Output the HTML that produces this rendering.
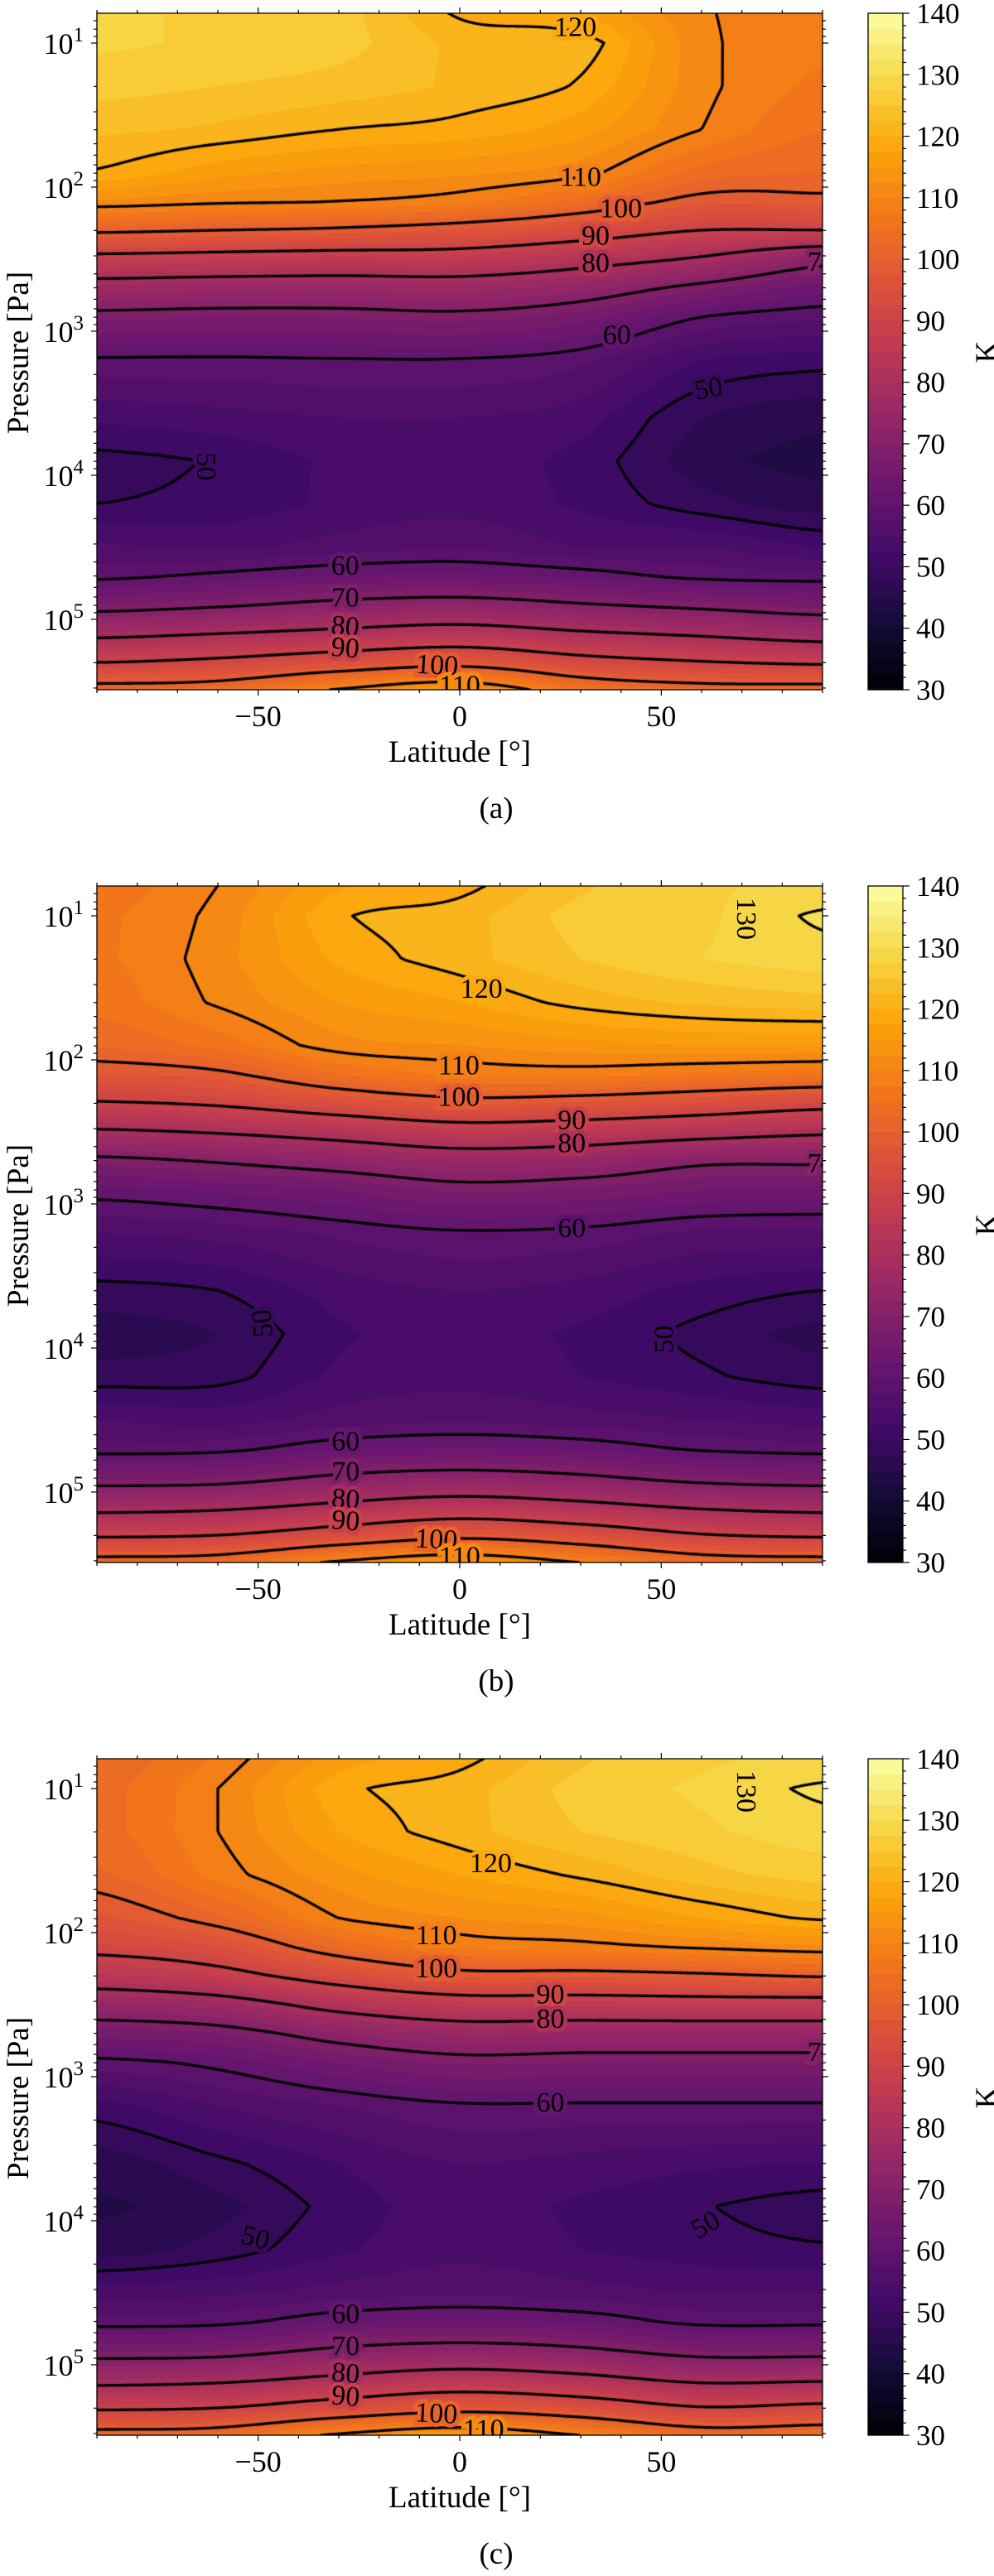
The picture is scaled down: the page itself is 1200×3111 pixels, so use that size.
<!DOCTYPE html>
<html><head><meta charset="utf-8"><title>Temperature cross-sections</title>
<style>
html,body{margin:0;padding:0;background:#fff}
#fig{position:relative;width:1200px;height:3111px;background:#fff;overflow:hidden}
canvas{position:absolute}
svg{position:absolute;left:0;top:0}
text{font-family:"Liberation Serif",serif;fill:#000}
</style></head>
<body>
<div id="fig">
<svg id="axes-svg" width="1200" height="3111"></svg>
</div>
<script>
// ---- data ----
const latNodes = [-90,-60,-30,0,30,60,90];
const logpNodes = [0.79,1.0,1.3,1.6,1.9,2.1,2.3,2.5,2.7,2.9,3.2,3.6,3.9,4.2,4.5,4.7,4.9,5.1,5.3,5.49];
const tempA = [
[128,128,126,123,119.7,112,101,87.5,76.4,68.2,59.5,53,49,50,55.5,59,67.5,78.3,90,103],
[127,127,125,122,116,110.7,100,86.7,75.7,67.6,59.4,54,50.3,50.8,54.5,60.8,69.2,80,91.8,104],
[126,126,124,120,114,110,99,86,75.5,67.7,59.7,55,53,53,56,62.6,71.5,81.8,95,110.5],
[119.5,122,122,119,113,108.5,97,86,76,68.5,59.7,55,53.5,54,57,63,72.5,83.5,97.5,115],
[117,121.5,119.5,116,111,104,94,83,73.5,66,58,53.5,51.5,52,55,61.6,70.5,81,93,106],
[110.5,111,111,110,104,98.5,90,79,68.2,60,52.5,47.5,46,48.5,55,59,68.5,79,90.5,103],
[108,108,107,105,102.5,99,90,72,63.5,58,51,45.5,44,46,52.5,58.5,66.5,76.5,89,103]
];
const tempB = [
[106,107,107,106,103,97.5,89.5,79,68.5,61.5,55,49,46,48.5,55,58.5,67,77.5,89,103],
[110,111,111.5,110.5,106,99,91,80.5,70.5,63,56,50,47.5,49,54,59,67.5,78.5,90,104],
[117,119.5,118,115,111.5,105,95,83,73,65,58,53.5,52,53,56,62,71,81.5,94,111],
[119,121.5,121.5,117.5,112.5,108,98,86,75.5,68,59.5,55,53.5,54,57,63,72.5,84,98,115],
[124.5,126,125,121,114,108.5,97,85,74.5,67,59,54,52,52.5,56,62,71,82,95,110],
[127,127,127.5,123,115,107,95,83,71,65,57,51.5,49,50.5,55,59.5,68,79,90.5,104],
[128,130.5,129,124,115,106,92.5,81,71,64,57,50,46.5,48.5,54,58.5,67,77.5,89,103]
];
const tempC = [
[103,104,104,102,97,92,84.5,74.5,66,59,51.5,46,44.5,46,54,58.5,67,77.5,89,103],
[108,110,110,108.5,102,95,87.5,76.5,67.5,61,55,49.3,46.5,48.5,54.5,59,67.5,78.5,90,104],
[116,119,117.5,114,110,103,93.5,82.5,72.5,65,57.5,52.5,51,52,56,62,71,81.5,94,111],
[119,121.5,121.5,117.5,112.5,108,98,86,75.5,68,59.5,55,53.5,54,57,63,72.5,84,97.5,115],
[124.5,126,125,120.5,114,109,98,86,75,67.5,59.5,54,52,52.5,56,62,71,82,95,110],
[127,128,127,124,117.5,110.5,99,86.5,75,67.5,59.5,53,50.2,51,55,59,67.5,78.5,90.5,104],
[128,130.5,129,126,120.5,112,100.5,86.5,75,67.5,59.5,52.5,48.5,50.3,55,59,67.5,79,92,105]
];
const contourLevels = [40,50,60,70,80,90,100,110,120,130];
const cbarTicks = [30,40,50,60,70,80,90,100,110,120,130,140];
const xTicks = [-50,0,50];
const xTickLabels = ["\u221250","0","50"];
const yDecades = [1,2,3,4,5];
const labelsA = [['120',28.7,0.89,0],['110',30,1.93,0],['100',40,2.15,0],['90',33.7,2.34,0],['80',33.7,2.53,0],['7',88,2.52,0],['60',39,3.03,0],['50',61.7,3.4,-10],['50',-63,3.94,90],['60',-28.4,4.63,0],['70',-28.4,4.85,0],['80',-28.4,5.05,5],['90',-28.4,5.2,5],['100',-5.6,5.32,3],['110',0,5.46,0]];
const labelsB = [['130',71,1.02,90],['120',5.4,1.51,0],['110',-0.2,2.04,0],['100',-0.2,2.26,0],['90',27.8,2.42,0],['80',27.8,2.58,0],['7',88,2.72,0],['60',27.8,3.17,0],['50',-48.9,3.83,-95],['50',50.8,3.94,-90],['60',-28.3,4.65,0],['70',-28.3,4.86,0],['80',-28.3,5.05,5],['90',-28.3,5.2,5],['100',-5.8,5.33,3],['110',0,5.45,0]];
const labelsC = [['130',71,1.02,90],['120',7.7,1.52,0],['110',-5.8,2.02,0],['100',-5.8,2.25,0],['90',22.5,2.43,0],['80',22.5,2.6,0],['7',88,2.83,0],['60',22.5,3.18,0],['50',-50.7,4.12,15],['50',61,4.03,-30],['60',-28.3,4.65,0],['70',-28.3,4.87,0],['80',-28.3,5.06,5],['90',-28.3,5.22,5],['100',-5.8,5.34,3],['110',5.9,5.45,0]];
const panelNames = ['(a)','(b)','(c)'];

// ---- layout ----
const NS='http://www.w3.org/2000/svg';
const PX0=117, PY0=16, PW=876, PH=817, LPTOP=0.793, LPBOT=5.489;
const OFFS=[0,1054,2108];
const CBX=1048, CBW=42, VMIN=30, VMAX=140, BAND=2.5;
function xOf(lat){return PX0+(lat+90)/180*PW;}
function yOf(lp){return PY0+(lp-LPTOP)/(LPBOT-LPTOP)*PH;}
function cbY(v){return PY0+PH-(v-VMIN)/(VMAX-VMIN)*PH;}

const inf=[[0,0,4],[22,11,57],[66,10,104],[106,23,110],[147,38,103],[188,55,84],[221,81,58],[243,120,25],[252,165,10],[246,215,70],[252,255,164]];
function inferno(t){t=Math.max(0,Math.min(1,t));const f=t*10;let i=Math.floor(f);if(i>=10)i=9;const u=f-i;const a=inf[i],b=inf[i+1];return [a[0]+(b[0]-a[0])*u,a[1]+(b[1]-a[1])*u,a[2]+(b[2]-a[2])*u].map(Math.round);}
const NB=Math.round((VMAX-VMIN)/BAND);
const bandCols=[];for(let i=0;i<NB;i++){bandCols.push(inferno((VMIN+(i+0.5)*BAND-VMIN)/(VMAX-VMIN)));}
function bandColor(T){let i=Math.floor((T-VMIN)/BAND);i=Math.max(0,Math.min(NB-1,i));return bandCols[i];}

function interpLP(row,lp){let j=0;while(j<logpNodes.length-2&&lp>logpNodes[j+1])j++;const t=(lp-logpNodes[j])/(logpNodes[j+1]-logpNodes[j]);return row[j]+(row[j+1]-row[j])*t;}
function catmull(col,lat){let u=(lat+90)/30;let i=Math.floor(u);if(i>5)i=5;if(i<0)i=0;const t=u-i;const p0=col[Math.max(i-1,0)],p1=col[i],p2=col[i+1],p3=col[Math.min(i+2,6)];return 0.5*((2*p1)+(-p0+p2)*t+(2*p0-5*p1+4*p2-p3)*t*t+(-p0+3*p1-3*p2+p3)*t*t*t);}
function field(data,lat,lp){const col=data.map(r=>interpLP(r,lp));return catmull(col,lat);}

const svg=document.getElementById('axes-svg');
const fig=document.getElementById('fig');
function mk(tag,attrs,parent){const e=document.createElementNS(NS,tag);for(const k in attrs)e.setAttribute(k,attrs[k]);(parent||svg).appendChild(e);return e;}

const temps=[tempA,tempB,tempC];
const labels=[labelsA,labelsB,labelsC];
const defs=mk('defs',{});

for(let p=0;p<3;p++){
  const off=OFFS[p], data=temps[p];
  const cv=document.createElement('canvas');
  
  
  cv.width=PW;cv.height=PH;cv.style.left=PX0+'px';cv.style.top=(PY0+off)+'px';
  fig.insertBefore(cv,svg);
  const ctx=cv.getContext('2d');
  const img=ctx.createImageData(PW,PH);
  for(let y=0;y<PH;y++){
    const lp=LPTOP+(y+0.5)/PH*(LPBOT-LPTOP);
    const col=data.map(r=>interpLP(r,lp));
    for(let x=0;x<PW;x++){
      const lat=-90+(x+0.5)/PW*180;
      const c=bandColor(catmull(col,lat));
      const k=(y*PW+x)*4;img.data[k]=c[0];img.data[k+1]=c[1];img.data[k+2]=c[2];img.data[k+3]=255;
    }
  }
  ctx.putImageData(img,0,0);
  const S=3;const nx=Math.ceil(PW/S)+1, ny=Math.ceil(PH/S)+1;
  const G=[];
  for(let j=0;j<ny;j++){const yy=Math.min(j*S,PH);const lp=LPTOP+yy/PH*(LPBOT-LPTOP);const col=data.map(r=>interpLP(r,lp));const row=[];for(let i=0;i<nx;i++){const xx=Math.min(i*S,PW);row.push(catmull(col,-90+xx/PW*180));}G.push(row);}
  ctx.strokeStyle='#000';ctx.lineWidth=3.3;ctx.lineCap='round';ctx.lineJoin='round';
  for(const L of contourLevels){
    ctx.beginPath();
    for(let j=0;j<ny-1;j++){const y0=Math.min(j*S,PH),y1=Math.min((j+1)*S,PH);
      for(let i=0;i<nx-1;i++){const x0=Math.min(i*S,PW),x1=Math.min((i+1)*S,PW);
        const a=G[j][i],b=G[j][i+1],c=G[j+1][i+1],d=G[j+1][i];
        const pts=[];
        const edge=(va,vb,xa,ya,xb,yb)=>{if((va<L)!==(vb<L)){const t=(L-va)/(vb-va);pts.push([xa+(xb-xa)*t,ya+(yb-ya)*t]);}};
        edge(a,b,x0,y0,x1,y0);edge(b,c,x1,y0,x1,y1);edge(c,d,x1,y1,x0,y1);edge(d,a,x0,y1,x0,y0);
        if(pts.length>=2){ctx.moveTo(pts[0][0],pts[0][1]);ctx.lineTo(pts[1][0],pts[1][1]);}
        if(pts.length===4){ctx.moveTo(pts[2][0],pts[2][1]);ctx.lineTo(pts[3][0],pts[3][1]);}
      }}
    ctx.stroke();
  }
  const cp=mk('clipPath',{id:'clip'+p},defs);
  mk('rect',{x:PX0,y:PY0+off,width:PW,height:PH},cp);
  const lg=mk('g',{'clip-path':'url(#clip'+p+')'});
  
  
  for(const lb of labels[p]){
    const T=field(data,lb[1],lb[2]);const c=bandColor(T);
    const x=xOf(lb[1]),y=yOf(lb[2])+off;
    const t=mk('text',{x:x,y:y,'text-anchor':'middle','dominant-baseline':'central','font-size':34,stroke:'rgb('+c.join(',')+')','stroke-width':10,'paint-order':'stroke','transform':'rotate('+lb[3]+' '+x+' '+y+')'},lg);
    
    
    t.textContent=lb[0];
  }
  const fr=mk('rect',{x:PX0,y:PY0+off,width:PW,height:PH,fill:'none',stroke:'#000','stroke-width':1.3});
  
  
  const tg=mk('g',{stroke:'#000','stroke-width':1.2});
  
  
  for(let lat=-90;lat<=90;lat+=10){const x=xOf(lat);const len=(lat%50===0)?7:4;
    mk('line',{x1:x,y1:PY0+PH+off,x2:x,y2:PY0+PH+off+len},tg);
    mk('line',{x1:x,y1:PY0+off,x2:x,y2:PY0+off-len},tg);}
  for(let d=0;d<=5;d++){for(let m=1;m<=9;m++){const lp=d+Math.log10(m);if(lp<LPTOP-1e-6||lp>LPBOT)continue;const y=yOf(lp)+off;const len=m===1?7:4;
    mk('line',{x1:PX0,y1:y,x2:PX0-len,y2:y},tg);mk('line',{x1:PX0+PW,y1:y,x2:PX0+PW+len,y2:y},tg);}}
  xTicks.forEach((v,i)=>{const t=mk('text',{x:xOf(v),y:PY0+PH+off+44,'text-anchor':'middle','font-size':36});
    
    
    t.textContent=xTickLabels[i];});
  yDecades.forEach(d=>{const y=yOf(d)+off;const t=mk('text',{x:101,y:y+13,'text-anchor':'end','font-size':36});
    
    
    const a=mk('tspan',{},t);a.textContent='10';const b=mk('tspan',{dy:-15,'font-size':25},t);b.textContent=String(d);});
  const xl=mk('text',{x:555,y:920+off,'text-anchor':'middle','font-size':37});
  
  
  xl.textContent='Latitude [\u00b0]';
  const yl=mk('text',{x:34,y:426+off,'text-anchor':'middle','font-size':37,transform:'rotate(-90 34 '+(426+off)+')'});
  
  
  yl.textContent='Pressure [Pa]';
  const pl=mk('text',{x:599,y:988+off,'text-anchor':'middle','font-size':37});
  
  
  pl.textContent=panelNames[p];
  const cg=mk('g',{});
  
  
  for(let i=0;i<NB;i++){const v0=VMIN+i*BAND,v1=v0+BAND;const yTop=cbY(v1)+off,yBot=cbY(v0)+off;
    const r=mk('rect',{x:CBX,y:yTop-0.3,width:CBW,height:yBot-yTop+0.6,fill:'rgb('+bandCols[i].join(',')+')'},cg);
    
    }
  mk('rect',{x:CBX,y:PY0+off,width:CBW,height:PH,fill:'none',stroke:'#000','stroke-width':1.3},cg);
  for(let v=VMIN;v<=VMAX;v+=2){const y=cbY(v)+off;const len=(v%10===0)?8:4;mk('line',{x1:CBX+CBW,y1:y,x2:CBX+CBW+len,y2:y,stroke:'#000','stroke-width':1.2},cg);}
  cbarTicks.forEach(v=>{const t=mk('text',{x:1106,y:cbY(v)+off+12,'font-size':35},cg);
    
    
    t.textContent=String(v);});
  const kl=mk('text',{x:1203,y:425+off,'text-anchor':'middle','font-size':37,transform:'rotate(-90 1203 '+(425+off)+')'},cg);
  
  
  kl.textContent='K';
}
</script>
</body></html>
